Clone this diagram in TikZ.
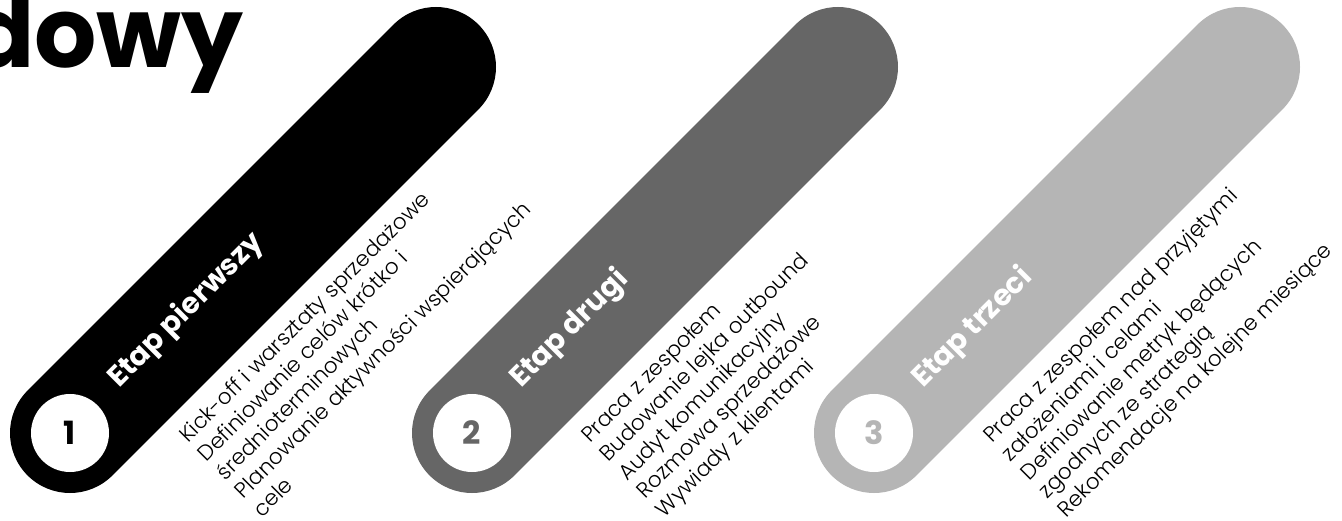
\documentclass[tikz,border=0pt]{standalone}
\usepackage{fontspec}
\setmainfont{Poppins}
\newfontfamily\poplight{Poppins Light}
\definecolor{gtwo}{HTML}{666666}
\definecolor{gthree}{HTML}{B5B5B5}
\begin{document}
\begin{tikzpicture}[x=1pt,y=-1pt,
  capsule/.style={line width=120pt, line cap=round},
  numcircle/.style={circle, fill=white, minimum size=78pt, inner sep=0pt, font=\bfseries\fontsize{32}{32}\selectfont},
  etap/.style={rotate=45, anchor=base west, inner sep=0pt, text=white, font=\bfseries\fontsize{29}{29}\selectfont},
  desc/.style={rotate=45, anchor=base west, inner sep=0pt, text=black, font=\poplight\fontsize{21.5}{21.5}\selectfont}]
\useasboundingbox (0,0) rectangle (1342,521);
\fill[white] (0,0) rectangle (1342,521);
\node[anchor=base east, inner sep=0pt, font=\bfseries\fontsize{98}{98}\selectfont] (title) at (244,68) {dowy};
\foreach \i/\col/\x in {1/black/70, 2/gtwo/472, 3/gthree/874} {
  \coordinate (a\i) at (\x,433);
  \coordinate (b\i) at (\x+366,67);
  \draw[capsule, draw=\col] (a\i) -- (b\i);
  \node[numcircle, text=\col] (n\i) at (a\i) {\i};
}
\node[etap] (e1) at (119,389) {Etap pierwszy};
\node[etap] (e2) at (521,389) {Etap drugi};
\node[etap] (e3) at (923,389) {Etap trzeci};
\foreach \j/\t in {0/Kick-off i warsztaty sprzedażowe, 1/Definiowanie celów krótko i, 2/średnioterminowych, 3/Planowanie aktywności wspierających, 4/cele} {
  \node[desc] (da\j) at (188+\j*18.6, 444+\j*18.6) {\t};
}
\foreach \j/\t in {0/Praca z zespołem, 1/Budowanie lejka outbound, 2/Audyt komunikacyjny, 3/Rozmowa sprzedażowe, 4/Wywiady z klientami} {
  \node[desc] (db\j) at (590+\j*18.6, 444+\j*18.6) {\t};
}
\foreach \j/\t in {0/Praca z zespołem nad przyjętymi, 1/założeniami i celami, 2/Definiowanie metryk będących, 3/zgodnych ze strategią, 4/Rekomendacje na kolejne miesiące} {
  \node[desc] (dc\j) at (992+\j*18.6, 444+\j*18.6) {\t};
}
\end{tikzpicture}
\end{document}
